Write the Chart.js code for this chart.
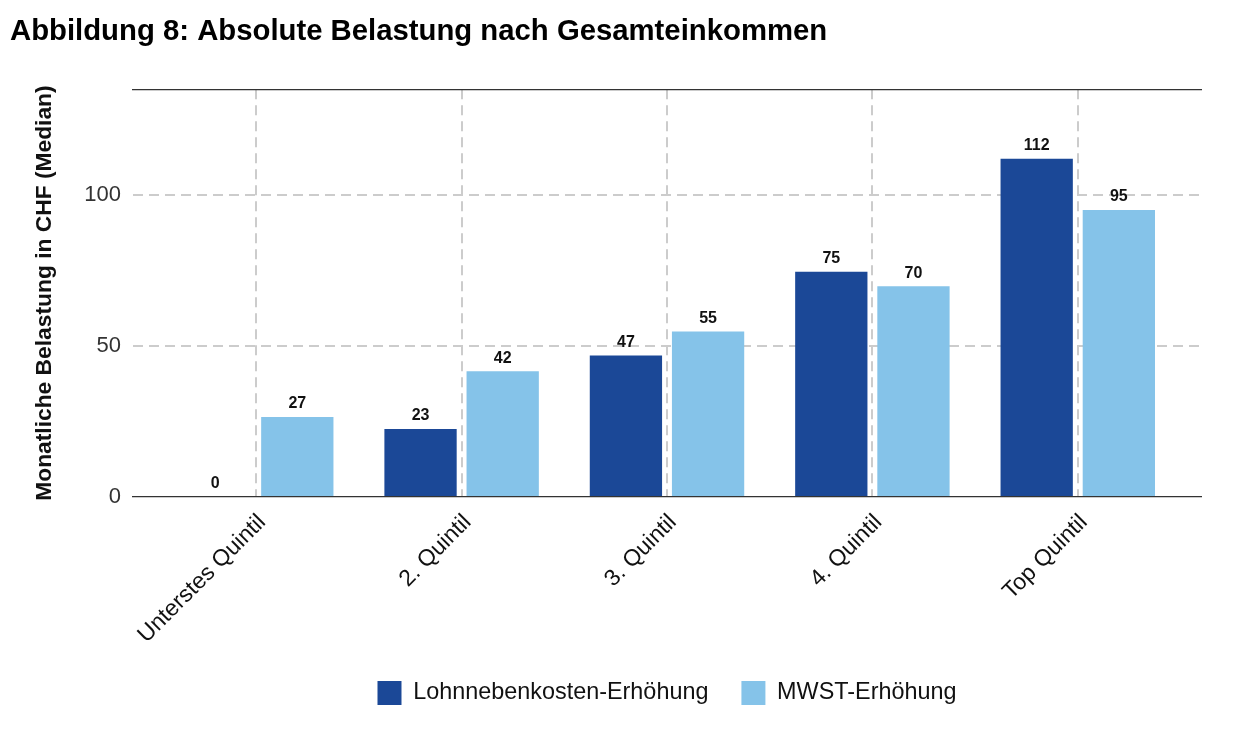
<!DOCTYPE html>
<html>
<head>
<meta charset="utf-8">
<script src="https://cdn.jsdelivr.net/npm/chart.js@4/dist/chart.umd.min.js"></script>
<style>
html,body{margin:0;padding:0;background:#fff;}
#wrap{width:1239px;height:731px;}
</style>
</head>
<body>
<div id="wrap"><canvas id="c" width="1239" height="731"></canvas></div>
<script>
const categories = ["Unterstes Quintil", "2. Quintil", "3. Quintil", "4. Quintil", "Top Quintil"];
const categoryPositions = [1, 2, 3, 4, 5];
const lohnnebenkosten = [0, 22.5, 46.8, 74.6, 112];
const mwst = [26.5, 41.6, 54.8, 69.8, 95];
const yTicks = [0, 50, 100];
const seriesNames = ["Lohnnebenkosten-Erhöhung", "MWST-Erhöhung"];
const colors = ["#1b4897", "#85c3e9"];

const FONT = "'Liberation Sans', Arial, sans-serif";

const valueLabels = {
  id: 'valueLabels',
  afterDatasetsDraw(chart) {
    const ctx = chart.ctx;
    ctx.save();
    ctx.font = "bold 16px " + FONT;
    ctx.fillStyle = "#111";
    ctx.textAlign = "center";
    ctx.textBaseline = "bottom";
    chart.data.datasets.forEach((ds, i) => {
      const meta = chart.getDatasetMeta(i);
      meta.data.forEach((el, j) => {
        const v = ds.data[j].y;
        ctx.fillText(String(Math.round(v)), el.x, el.y - 5);
      });
    });
    ctx.restore();
  }
};

const toPoints = arr => arr.map((v, i) => ({x: categoryPositions[i], y: v}));

new Chart(document.getElementById('c'), {
  type: 'bar',
  data: {
    datasets: [
      {label: seriesNames[0], data: toPoints(lohnnebenkosten), backgroundColor: colors[0], categoryPercentage: 0.8, barPercentage: 0.88},
      {label: seriesNames[1], data: toPoints(mwst), backgroundColor: colors[1], categoryPercentage: 0.8, barPercentage: 0.88}
    ]
  },
  options: {
    responsive: false,
    animation: false,
    devicePixelRatio: 1,
    layout: {padding: {left: 10, right: 38, top: 0, bottom: 16}},
    plugins: {
      title: {
        display: true,
        text: "Abbildung 8: Absolute Belastung nach Gesamteinkommen",
        align: 'start',
        color: '#000',
        font: {family: FONT, size: 29.3, weight: 'bold', lineHeight: 1.2},
        padding: {top: 14, bottom: 0}
      },
      legend: {
        position: 'bottom',
        fullSize: false,
        labels: {
          color: '#111',
          font: {family: FONT, size: 23.4},
          boxWidth: 24,
          boxHeight: 24,
          padding: 33
        }
      },
      tooltip: {enabled: false}
    },
    scales: {
      x: {
        type: 'linear',
        position: 'bottom',
        offset: false,
        min: 0.4,
        max: 5.6,
        afterBuildTicks: s => { s.ticks = categoryPositions.map(v => ({value: v})); },
        afterFit: s => { s.height = 151; },
        ticks: {
          callback: (v, i) => categories[i],
          color: '#111',
          font: {family: FONT, size: 23},
          maxRotation: 45,
          minRotation: 45,
          padding: 12,
          labelOffset: 6,
          autoSkip: false
        },
        grid: {
          offset: false,
          color: '#cccccc',
          lineWidth: 2,
          drawTicks: false
        },
        border: {display: true, color: '#333', width: 1.3, dash: [10, 6]}
      },
      xTop: {
        type: 'linear',
        position: 'top',
        min: 0,
        max: 1,
        afterFit: s => { s.height = 40; },
        ticks: {display: false},
        grid: {display: false, drawTicks: false},
        border: {display: true, color: '#333', width: 1.3}
      },
      y: {
        type: 'linear',
        min: 0,
        max: 135,
        afterBuildTicks: s => { s.ticks = yTicks.map(v => ({value: v})); },
        afterFit: s => { s.width = 123; },
        ticks: {
          color: '#333',
          font: {family: FONT, size: 22},
          padding: 12
        },
        grid: {
          color: ctx => ctx.tick && ctx.tick.value === 0 ? 'rgba(0,0,0,0)' : '#cccccc',
          lineWidth: 2,
          drawTicks: false
        },
        border: {display: false, dash: [10, 6]},
        title: {
          display: true,
          text: "Monatliche Belastung in CHF (Median)",
          color: '#111',
          font: {family: FONT, size: 22.8, weight: 'bold', lineHeight: 1.2},
          padding: {top: 21, bottom: 0}
        }
      }
    }
  },
  plugins: [valueLabels]
});
</script>
</body>
</html>
